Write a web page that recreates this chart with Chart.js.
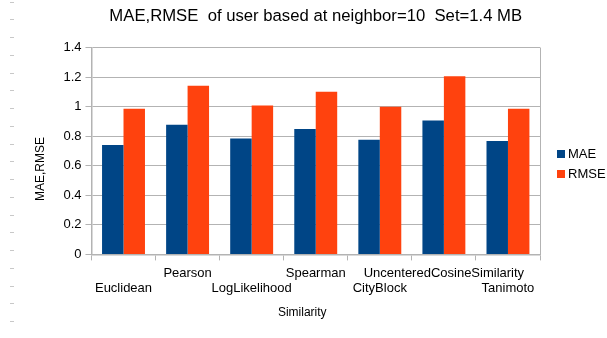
<!DOCTYPE html>
<html>
<head>
<meta charset="utf-8">
<script src="https://cdn.jsdelivr.net/npm/chart.js@4/dist/chart.umd.min.js"></script>
<style>
  html, body { margin: 0; padding: 0; background: #fff; }
  #wrap { width: 607px; height: 338px; position: relative; }
</style>
</head>
<body>
<div id="wrap"><canvas id="bars"></canvas></div>
<script>
const categories = ['Euclidean', 'Pearson', 'LogLikelihood', 'Spearman', 'CityBlock', 'UncenteredCosineSimilarity', 'Tanimoto'];
const maeValues = [0.74, 0.877, 0.785, 0.848, 0.776, 0.906, 0.767];
const rmseValues = [0.985, 1.142, 1.007, 1.101, 1.0, 1.205, 0.985];
const yTicks = [0, 0.2, 0.4, 0.6, 0.8, 1, 1.2, 1.4];
const xTitle = 'Similarity';
const yTitle = 'MAE,RMSE';

const FONT = "'Liberation Sans', Arial, sans-serif";
const GRID = '#b3b3b3';

// ruler dashes on the left edge, axis titles and legend drawn by hand
// (the original puts them off-centre, which chart.js titles can't do)
const extras = {
    id: 'extras',
    afterDraw(chart) {
        const c = chart.ctx;
        const area = chart.chartArea;
        const midX = (area.left + area.right) / 2;
        const midY = (area.top + area.bottom) / 2;
        c.save();
        c.strokeStyle = '#c8c8c8';
        c.lineWidth = 1;
        for (let y = 1.5; y < chart.height; y += 17.75) {
            c.beginPath();
            c.moveTo(10, Math.round(y) + 0.5);
            c.lineTo(14, Math.round(y) + 0.5);
            c.stroke();
        }

        c.fillStyle = '#000';
        c.font = '12px ' + FONT;
        c.textAlign = 'center';
        c.textBaseline = 'middle';
        c.fillText(xTitle, midX - 13.5, area.bottom + 58);
        c.save();
        c.translate(41, midY + 18);
        c.rotate(-Math.PI / 2);
        c.fillText(yTitle, 0, 0);
        c.restore();

        c.font = '13px ' + FONT;
        c.textAlign = 'left';
        chart.data.datasets.forEach((ds, i) => {
            const y = 154 + i * 20;
            c.fillStyle = ds.backgroundColor;
            c.fillRect(area.right + 17, y - 4, 8, 8);
            c.fillStyle = '#000';
            c.fillText(ds.label, area.right + 28, y);
        });
        c.restore();
    }
};

const ctx = document.getElementById('bars');
new Chart(ctx, {
    type: 'bar',
    data: {
        labels: categories,
        datasets: [
            { label: 'MAE', data: maeValues, backgroundColor: '#004586' },
            { label: 'RMSE', data: rmseValues, backgroundColor: '#ff420e' }
        ]
    },
    options: {
        responsive: true,
        maintainAspectRatio: false,
        animation: false,
        categoryPercentage: 0.67,
        barPercentage: 1.0,
        layout: { padding: { left: 59.4, right: 67, top: 0, bottom: 36.4 } },
        plugins: {
            legend: { display: false },
            tooltip: { enabled: false },
            title: {
                display: true,
                fullSize: false,
                text: 'MAE,RMSE  of user based at neighbor=10  Set=1.4 MB',
                color: '#000',
                font: { family: FONT, size: 16.7, weight: 'normal' },
                padding: { top: 6, bottom: 21.5 }
            }
        },
        scales: {
            x: {
                grid: {
                    offset: true,
                    color: (c) => c.type === 'tick' ? 'rgba(0,0,0,0)' : GRID,
                    tickColor: GRID,
                    tickLength: 6,
                    lineWidth: 1
                },
                border: { color: GRID, width: 1.5 },
                ticks: {
                    color: '#000',
                    font: { family: FONT, size: 13 },
                    padding: 5,
                    autoSkip: false,
                    maxRotation: 0,
                    minRotation: 0,
                    callback: function (value, index) {
                        const name = this.getLabelForValue(value);
                        return index % 2 === 0 ? ['', name] : [name];
                    }
                }
            },
            y: {
                min: 0,
                max: 1.4,
                afterBuildTicks: (scale) => {
                    scale.ticks = yTicks.map(v => ({ value: v }));
                },
                grid: { color: GRID, tickColor: GRID, tickLength: 6, lineWidth: 1 },
                border: { color: GRID, width: 1.5 },
                ticks: {
                    color: '#000',
                    font: { family: FONT, size: 13 },
                    padding: 4,
                    callback: (v) => String(Math.round(v * 10) / 10)
                }
            }
        }
    },
    plugins: [extras]
});
</script>
</body>
</html>
